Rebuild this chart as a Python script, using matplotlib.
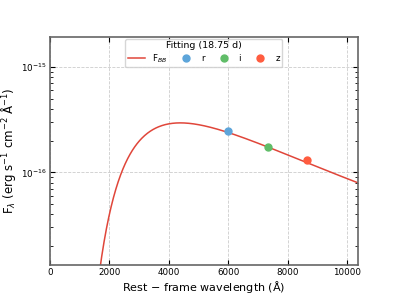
import numpy as np
import matplotlib.pyplot as plt

# blackbody fit parameters
T_BB = 6600.0          # K
PEAK_FLUX = 2.95e-16   # erg/s/cm2/A at the peak

# photometry (rest-frame)
bands = ['r', 'i', 'z']
band_wave = [5990, 7330, 8650]
band_flux = [2.47e-16, 1.74e-16, 1.31e-16]
band_colors = ['#5DA5DA', '#60BD68', '#FF5C3F']


def planck(lam, T):
    x = 1.4388e8 / (lam * T)
    return lam ** -5 / np.expm1(x)


lam = np.linspace(1000, 10500, 600)
lam_peak = 2.898e7 / T_BB
model = planck(lam, T_BB) / planck(lam_peak, T_BB) * PEAK_FLUX

fig, ax = plt.subplots(figsize=(3.99, 2.99), dpi=100)
fig.subplots_adjust(left=0.125, right=0.897, top=0.877, bottom=0.114)

ax.plot(lam, model, color='#E0463A', lw=1.1, label=r'F$_{BB}$', zorder=2)
for b, w, f, c in zip(bands, band_wave, band_flux, band_colors):
    ax.plot(w, f, 'o', color=c, ms=5, label=b, zorder=3)

ax.set_yscale('log')
ax.set_xlim(0, 10370)
ax.set_ylim(1.32e-17, 1.94e-15)
ax.set_xticks([0, 2000, 4000, 6000, 8000, 10000])
ax.grid(True, which='major', ls='--', color='#cccccc', lw=0.6)
ax.tick_params(which='both', direction='in', top=True, right=True,
               labelsize=6.3, pad=2.5)
ax.tick_params(which='major', length=3.5)
ax.tick_params(which='minor', length=2)
for s in ax.spines.values():
    s.set_color('#666666')
    s.set_linewidth(1.2)

ax.set_xlabel(r'Rest $-$ frame wavelength ($\mathrm{\AA}$)', fontsize=8, labelpad=1.5)
ax.set_ylabel(r'F$_{\lambda}$ (erg s$^{-1}$ cm$^{-2}$ $\mathrm{\AA}^{-1}$)', fontsize=8.5,
              labelpad=2)

ax.legend(title='Fitting (18.75 d)', ncol=4, loc='upper center', fontsize=6.3,
          title_fontsize=6.8, handlelength=2.0, columnspacing=1.2,
          borderpad=0.3, labelspacing=0.2, handletextpad=0.7,
          bbox_to_anchor=(0.5, 1.01))

fig.savefig('out.png', dpi=100)
